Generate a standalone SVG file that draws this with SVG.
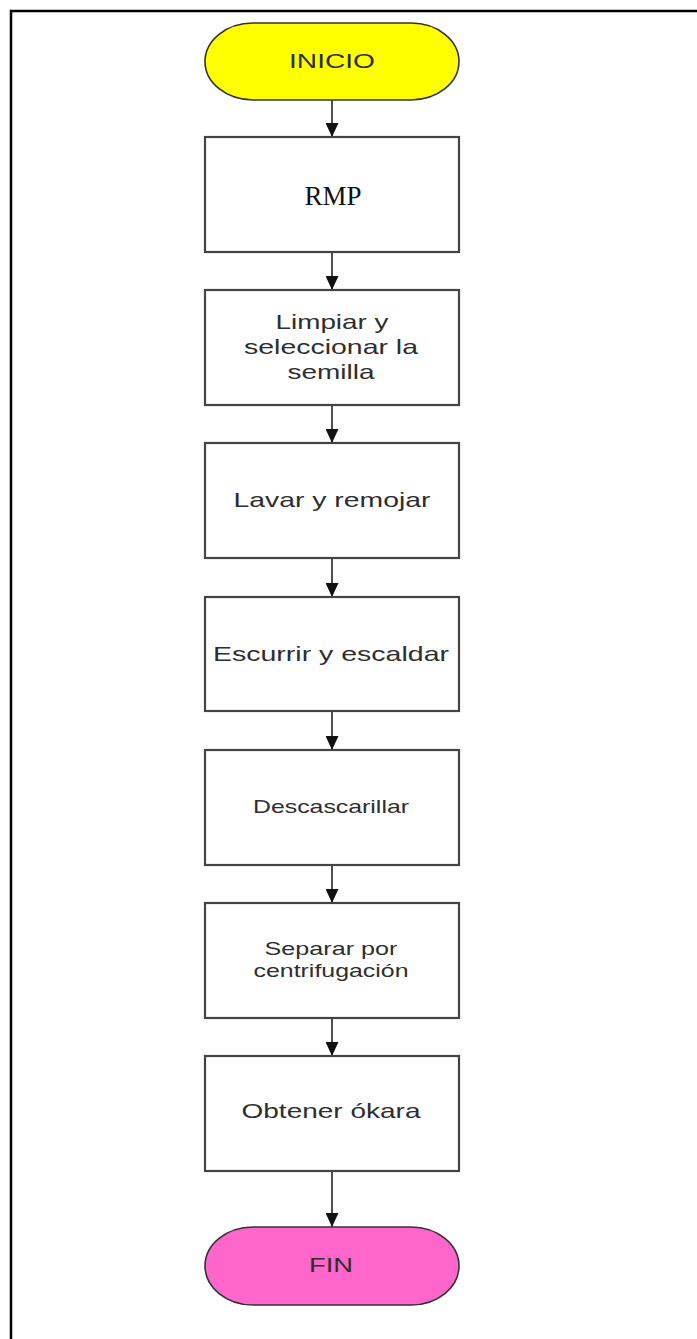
<svg xmlns="http://www.w3.org/2000/svg" width="697" height="1339" viewBox="0 0 697 1339">
  <defs>
    <marker id="arrow" viewBox="0 0 14 13" refX="14" refY="6.5" markerWidth="14" markerHeight="13" markerUnits="userSpaceOnUse" orient="auto">
      <path d="M0,0 L14,6.5 L0,13 Z" fill="#111"/>
    </marker>
    <style>
      .frame { stroke: #000; stroke-width: 2.5; fill: none; }
      .box { fill: #fff; stroke: #444; stroke-width: 2.2; }
      .term { stroke: #333; stroke-width: 1.6; }
      .lbl { font-family: "Liberation Sans", Arial, sans-serif; fill: #2e2e2e; text-anchor: middle; }
      .big { font-size: 21px; }
      .small { font-size: 19px; }
      .serif { font-family: "Liberation Serif", "Times New Roman", serif; font-size: 27px; fill: #111; text-anchor: middle; }
      .conn { stroke: #222; stroke-width: 1.6; fill: none; marker-end: url(#arrow); }
    </style>
  </defs>
  <rect width="697" height="1339" fill="#fff"/>

  <!-- page frame: top and left edges -->
  <path class="frame" d="M11,1339 L11,11 L697,11"/>

  <!-- connectors -->
  <g id="connectors">
    <line class="conn" x1="332" y1="100" x2="332" y2="137"/>
    <line class="conn" x1="332" y1="252" x2="332" y2="290"/>
    <line class="conn" x1="332" y1="405" x2="332" y2="443"/>
    <line class="conn" x1="332" y1="558" x2="332" y2="597"/>
    <line class="conn" x1="332" y1="711" x2="332" y2="750"/>
    <line class="conn" x1="332" y1="865" x2="332" y2="903"/>
    <line class="conn" x1="332" y1="1018" x2="332" y2="1056"/>
    <line class="conn" x1="332" y1="1171" x2="332" y2="1227"/>
  </g>

  <g id="inicio">
    <rect class="term" x="205" y="23" width="254" height="77" rx="48" ry="38.5" fill="#ffff00"/>
    <text class="lbl big" x="332" y="68" textLength="86" lengthAdjust="spacingAndGlyphs" fill="#333">INICIO</text>
  </g>

  <g id="rmp">
    <rect class="box" x="205" y="137" width="254" height="115"/>
    <text class="serif" x="333" y="205" textLength="57" lengthAdjust="spacingAndGlyphs">RMP</text>
  </g>

  <g id="limpiar">
    <rect class="box" x="205" y="290" width="254" height="115"/>
    <text class="lbl big" x="332" y="329" textLength="113" lengthAdjust="spacingAndGlyphs">Limpiar y</text>
    <text class="lbl big" x="331" y="354" textLength="174" lengthAdjust="spacingAndGlyphs">seleccionar la</text>
    <text class="lbl big" x="331" y="379" textLength="87" lengthAdjust="spacingAndGlyphs">semilla</text>
  </g>

  <g id="lavar">
    <rect class="box" x="205" y="443" width="254" height="115"/>
    <text class="lbl big" x="332" y="507" textLength="197" lengthAdjust="spacingAndGlyphs">Lavar y remojar</text>
  </g>

  <g id="escurrir">
    <rect class="box" x="205" y="597" width="254" height="114"/>
    <text class="lbl big" x="331" y="661" textLength="236" lengthAdjust="spacingAndGlyphs">Escurrir y escaldar</text>
  </g>

  <g id="descascarillar">
    <rect class="box" x="205" y="750" width="254" height="115"/>
    <text class="lbl small" x="331" y="813" textLength="156" lengthAdjust="spacingAndGlyphs">Descascarillar</text>
  </g>

  <g id="separar">
    <rect class="box" x="205" y="903" width="254" height="115"/>
    <text class="lbl small" x="331" y="955" textLength="133" lengthAdjust="spacingAndGlyphs">Separar por</text>
    <text class="lbl small" x="331" y="977" textLength="155" lengthAdjust="spacingAndGlyphs">centrifugación</text>
  </g>

  <g id="obtener">
    <rect class="box" x="205" y="1056" width="254" height="115"/>
    <text class="lbl big" x="331" y="1118" textLength="179" lengthAdjust="spacingAndGlyphs">Obtener ókara</text>
  </g>

  <g id="fin">
    <rect class="term" x="205" y="1227" width="254" height="78" rx="48" ry="39" fill="#ff66cc"/>
    <text class="lbl big" x="331" y="1272" textLength="44" lengthAdjust="spacingAndGlyphs" fill="#2a1a24">FIN</text>
  </g>
</svg>
